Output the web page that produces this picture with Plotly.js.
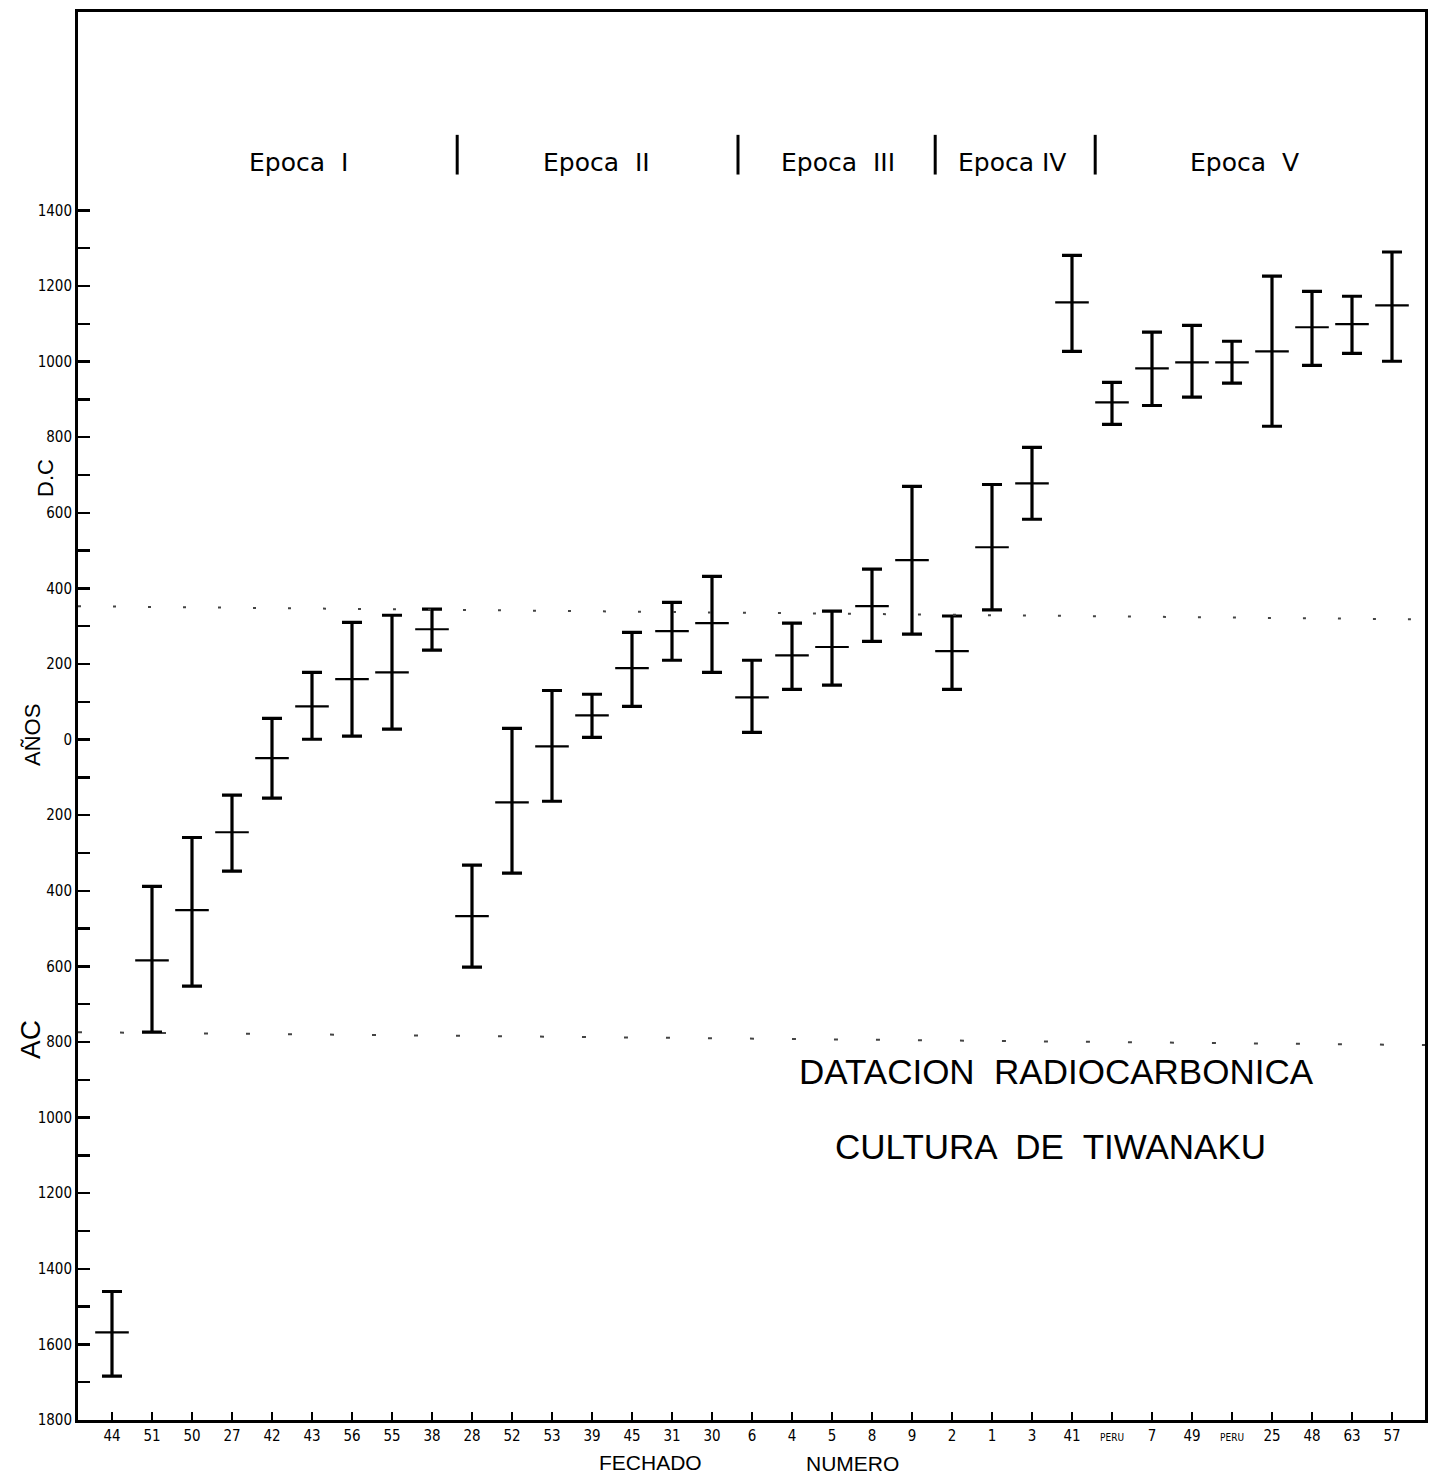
<!DOCTYPE html>
<html>
<head>
<meta charset="utf-8">
<script src="https://cdn.plot.ly/plotly-3.0.1.min.js"></script>
<style>html,body{margin:0;padding:0;background:#fff;}#chart{width:1432px;height:1478px;}</style>
</head>
<body>
<div id="chart"></div>
<script>
// Sample numbers (FECHADO NUMERO) in plotting order
const sampleLabels = ['44','51','50','27','42','43','56','55','38','28','52','53','39','45','31','30','6','4','5','8','9','2','1','3','41','PERU','7','49','PERU','25','48','63','57'];
// Central date (years; negative = AC / BC)
const centerYears = [-1568,-584,-451,-245,-49,88,160,178,292,-467,-166,-18,64,189,287,308,112,223,245,353,475,234,509,678,1157,892,982,998,998,1027,1091,1099,1149];
// Upper and lower limits of each date range
const highYears = [-1460,-388,-259,-147,56,178,310,329,345,-332,30,130,120,284,363,432,210,308,340,451,670,327,675,773,1281,945,1078,1096,1054,1226,1186,1173,1290];
const lowYears  = [-1684,-774,-652,-348,-155,1,9,28,237,-602,-353,-163,6,88,210,178,19,133,144,260,279,133,343,583,1027,834,884,906,943,829,990,1022,1001];
// Y axis tick labels (years D.C above 0, AC below 0)
const yTickVals = [1400,1200,1000,800,600,400,200,0,-200,-400,-600,-800,-1000,-1200,-1400,-1600,-1800];
const yTickText = ['1400','1200','1000','800','600','400','200','0','200','400','600','800','1000','1200','1400','1600','1800'];
const yMinorTicks = [1300,1100,900,700,500,300,100,-100,-300,-500,-700,-900,-1100,-1300,-1500,-1700];
// Epoch labels and separators
const epochNames = ['Epoca  I','Epoca  II','Epoca  III','Epoca IV','Epoca  V'];
const epochCenters = [4.65, 12.1, 18.15, 22.5, 28.3];
const epochBounds = [8.63, 15.65, 20.58, 24.58];
// Dotted reference lines (left end, right end)
const upperRefLine = [353, 318];
const lowerRefLine = [-774, -808];

const xIdx = sampleLabels.map((_, i) => i);
const plus = highYears.map((h, i) => h - centerYears[i]);
const minus = centerYears.map((c, i) => c - lowYears[i]);
const tickText = sampleLabels.map(l => l === 'PERU' ? '<span style="font-size:10px">PERU</span>' : l);

const xMin = -0.85, xMax = 32.825;

const traces = [
  {
    x: xIdx, y: centerYears, type: 'scatter', mode: 'markers',
    marker: {symbol: 'line-ew-open', size: 24, color: 'black', line: {color: 'black', width: 2.2}},
    error_y: {type: 'data', symmetric: false, array: plus, arrayminus: minus, color: 'black', thickness: 3.2, width: 10},
    hoverinfo: 'skip', showlegend: false
  },
  {
    x: [xMin, xMax], y: upperRefLine, type: 'scatter', mode: 'lines',
    line: {color: '#444', width: 2, dash: '3px,32px'}, hoverinfo: 'skip', showlegend: false
  },
  {
    x: [xMin, xMax], y: lowerRefLine, type: 'scatter', mode: 'lines',
    line: {color: '#444', width: 2, dash: '4px,38px'}, hoverinfo: 'skip', showlegend: false
  }
];

const annotations = [];
epochNames.forEach((t, i) => annotations.push({
  x: epochCenters[i], y: 1527, xref: 'x', yref: 'y', text: t, showarrow: false,
  font: {family: 'DejaVu Sans', size: 25, color: 'black'}
}));
annotations.push({x: 23.6, y: -878, xref: 'x', yref: 'y', text: 'DATACION  RADIOCARBONICA', showarrow: false,
  font: {family: 'Liberation Sans', size: 35, color: 'black'}});
annotations.push({x: 23.45, y: -1076, xref: 'x', yref: 'y', text: 'CULTURA  DE  TIWANAKU', showarrow: false,
  font: {family: 'Liberation Sans', size: 35, color: 'black'}});
annotations.push({x: 45, y: 478, xref: 'paper', yref: 'paper', xanchor: 'center', yanchor: 'middle', showarrow: false,
  text: 'D.C', textangle: -90, font: {family: 'Liberation Sans', size: 22, color: 'black'}});
annotations.push({x: 32, y: 735, xref: 'paper', yref: 'paper', xanchor: 'center', yanchor: 'middle', showarrow: false,
  text: 'AÑOS', textangle: -90, font: {family: 'Liberation Sans', size: 22, color: 'black'}});
annotations.push({x: 30, y: 1040, xref: 'paper', yref: 'paper', xanchor: 'center', yanchor: 'middle', showarrow: false,
  text: 'AC', textangle: -90, font: {family: 'Liberation Sans', size: 28, color: 'black'}});
annotations.push({x: 650, y: 1462, xref: 'paper', yref: 'paper', xanchor: 'center', yanchor: 'middle', showarrow: false,
  text: 'FECHADO', font: {family: 'Liberation Sans', size: 21, color: 'black'}});
annotations.push({x: 852, y: 1463, xref: 'paper', yref: 'paper', xanchor: 'center', yanchor: 'middle', showarrow: false,
  text: 'NUMERO', font: {family: 'Liberation Sans', size: 21, color: 'black'}});

// convert pixel-placed paper annotations to paper fractions
const L = 78, R = 7, T = 12, B = 58, W = 1432, H = 1478;
const pw = W - L - R, ph = H - T - B;
annotations.forEach(a => {
  if (a.xref === 'paper') {
    a.x = (a.x - L) / pw;
    a.y = 1 - (a.y - T) / ph;
  }
});

const shapes = epochBounds.map(b => ({
  type: 'line', xref: 'x', yref: 'y', x0: b, x1: b, y0: 1495, y1: 1600,
  line: {color: 'black', width: 3}
}));

const layout = {
  width: W, height: H,
  margin: {l: L, r: R, t: T, b: B},
  paper_bgcolor: 'white', plot_bgcolor: 'white',
  showlegend: false,
  xaxis: {
    range: [xMin, xMax], tickmode: 'array', tickvals: xIdx, ticktext: tickText,
    ticks: 'inside', ticklen: 8, tickwidth: 2, tickcolor: 'black',
    showgrid: false, zeroline: false, showline: true, linecolor: 'black', linewidth: 3,
    mirror: true,
    tickfont: {family: 'DejaVu Sans Condensed, DejaVu Sans', size: 15, color: 'black'}
  },
  yaxis: {
    range: [-1800, 1925], tickmode: 'array', tickvals: yTickVals, ticktext: yTickText,
    ticks: 'inside', ticklen: 12, tickwidth: 2.5, tickcolor: 'black',
    minor: {tickmode: 'array', tickvals: yMinorTicks, ticks: 'inside', ticklen: 12, tickwidth: 2.5, tickcolor: 'black'},
    showgrid: false, zeroline: false, showline: true, linecolor: 'black', linewidth: 3,
    mirror: true,
    tickfont: {family: 'DejaVu Sans Condensed, DejaVu Sans', size: 15, color: 'black'}
  },
  annotations: annotations,
  shapes: shapes
};

Plotly.newPlot('chart', traces, layout, {staticPlot: true});
</script>
</body>
</html>
